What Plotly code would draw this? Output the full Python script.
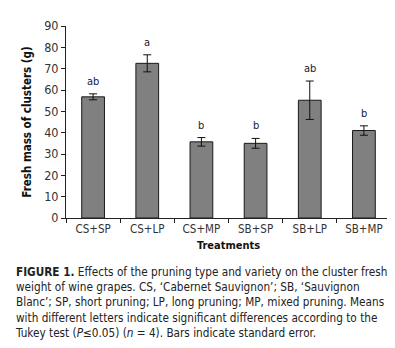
import plotly.graph_objects as go

categories = ["CS+SP", "CS+LP", "CS+MP", "SB+SP", "SB+LP", "SB+MP"]
means = [56.8, 72.5, 35.7, 35.0, 55.2, 41.0]
errors = [1.4, 4.0, 2.0, 2.3, 9.0, 2.2]
letters = ["ab", "a", "b", "b", "ab", "b"]
yticks = [0, 10, 20, 30, 40, 50, 60, 70, 80, 90]

FONT = "DejaVu Sans Condensed, Liberation Sans Narrow, Arial Narrow, sans-serif"

fig = go.Figure()
fig.add_trace(go.Bar(
    x=categories, y=means, width=0.42,
    marker=dict(color="#808080", line=dict(color="#1a1a1a", width=1)),
    error_y=dict(type="data", array=errors, visible=True, color="#111111", thickness=1, width=4),
    showlegend=False,
))

for c, m, e, l in zip(categories, means, errors, letters):
    fig.add_annotation(x=c, y=m + e, text=l, showarrow=False, yanchor="bottom", yshift=4,
                       font=dict(family=FONT, size=11, color="#1a1a3a"))

caption = ("<b>FIGURE 1.</b> Effects of the pruning type and variety on the cluster fresh<br>"
           "weight of wine grapes. CS, ‘Cabernet Sauvignon’; SB, ‘Sauvignon<br>"
           "Blanc’; SP, short pruning; LP, long pruning; MP, mixed pruning. Means<br>"
           "with different letters indicate significant differences according to the<br>"
           "Tukey test (<i>P</i>≤0.05) (<i>n</i> = 4). Bars indicate standard error.")
fig.add_annotation(xref="paper", yref="paper", x=-0.163, y=-0.235, xanchor="left", yanchor="top",
                   text=caption, showarrow=False, align="left",
                   font=dict(family=FONT, size=11.7, color="#222222"))

fig.update_layout(
    width=395, height=348,
    margin=dict(l=58, r=12, t=10, b=138),
    paper_bgcolor="white", plot_bgcolor="white",
    font=dict(family=FONT, size=11, color="#222222"),
    xaxis=dict(
        type="category", range=[-0.5, 5.5], showline=True, linecolor="#222", linewidth=1,
        ticks="outside", tickson="boundaries", ticklen=4, tickcolor="#222",
        tickfont=dict(family=FONT, size=11.5, color="#333"),
        title=dict(text="<b>Treatments</b>", font=dict(family=FONT, size=11, color="#111"), standoff=6),
    ),
    yaxis=dict(
        range=[0, 90], tickvals=yticks, showline=True, linecolor="#222", linewidth=1,
        ticks="outside", ticklen=4, tickcolor="#222", showgrid=False, zeroline=False,
        tickfont=dict(family=FONT, size=12.5, color="#333"),
        title=dict(text="<b>Fresh mass of clusters (g)</b>", font=dict(family=FONT, size=11.5, color="#111"), standoff=10),
    ),
)

fig.write_html("out.html")
